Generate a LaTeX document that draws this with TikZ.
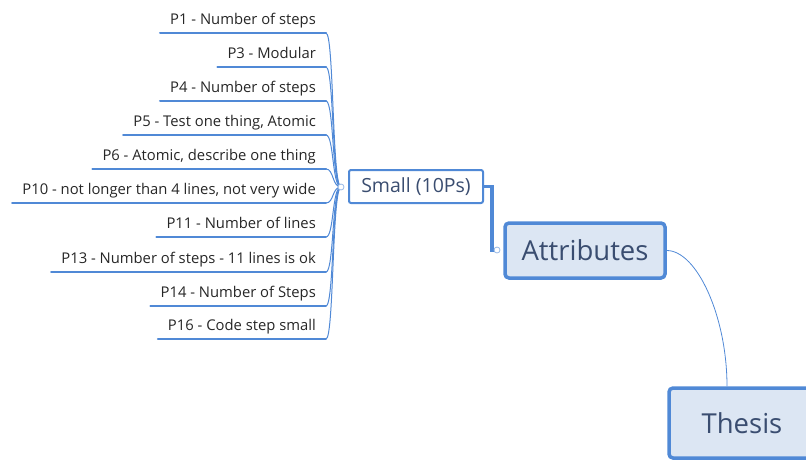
\documentclass[tikz,border=0pt]{standalone}
\usepackage{fontspec}
\setmainfont{Open Sans}
\usepackage{tikz}
\usetikzlibrary{positioning}

\definecolor{mapblue}{HTML}{5089D6}
\definecolor{mapfill}{HTML}{DCE6F3}
\definecolor{maptext}{HTML}{3A4D70}
\definecolor{leaftext}{HTML}{262626}

\begin{document}
\begin{tikzpicture}[x=1pt,y=-1pt,
  leaf/.style={anchor=south east, inner xsep=10pt, inner ysep=5pt, text depth=3.5pt,
    font=\fontsize{14.8}{16}\selectfont, text=leaftext},
  under/.style={draw=mapblue, line width=2pt, line cap=round},
  twig/.style={draw=mapblue, line width=1pt},
  junc/.style={circle, draw=mapblue!60, fill=white, line width=0.8pt, inner sep=0pt, minimum size=6pt},
  smallbox/.style={draw=mapblue, line width=2pt, rounded corners=2pt, fill=white,
    minimum width=134pt, minimum height=33pt, font=\fontsize{19.5}{22}\selectfont, text=maptext},
  bigbox/.style={draw=mapblue, line width=3.5pt, rounded corners=4pt, fill=mapfill,
    font=\fontsize{27.5}{30}\selectfont, text=maptext}]
\clip (0,0) rectangle (806,459);
% draws main topics
\node[bigbox, minimum width=146pt, minimum height=70pt] (thesis) at (742,423) {Thesis};
\node[bigbox, minimum width=160pt, minimum height=55pt] (attr) at (585,250.5) {Attributes};
\node[smallbox] (small) at (416,186.5) {Small (10Ps)};
\coordinate (jattr) at (497,250);
\coordinate (jsmall) at (341,187);
% draws leaves
\foreach \nm/\yy/\txt in {
  p1/33/{P1 - Number of steps},
  p3/67/{P3 - Modular},
  p4/101/{P4 - Number of steps},
  p5/135/{P5 - Test one thing, Atomic},
  p6/169/{P6 - Atomic, describe one thing},
  p10/203/{P10 - not longer than 4 lines, not very wide},
  p11/237/{P11 - Number of lines},
  p13/272/{P13 - Number of steps - 11 lines is ok},
  p14/306/{P14 - Number of Steps},
  p16/339/{P16 - Code step small}}{
  \node[leaf] (\nm) at (326,\yy) {\txt};
  \draw[under] (\nm.south west) -- (\nm.south east);
  \draw[twig] (\nm.south east) .. controls +(8,0) and +(-9,0) .. (jsmall);
}
% draws connectors
\draw[draw=mapblue, line width=3.5pt] (small.east) -- ++(8,0) |- (jattr);
\draw[draw=mapblue, line width=0.8pt] (attr.east) .. controls +(30,0) and +(0,-70) .. ([xshift=-15pt]thesis.north);
% draws junction circles
\node[junc] (jattrdot) at (jattr) {};
\node[junc] (jsmalldot) at (jsmall) {};
\end{tikzpicture}
\end{document}
